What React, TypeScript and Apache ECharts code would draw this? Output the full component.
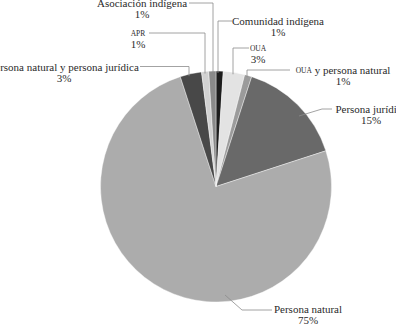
import React, { useEffect, useRef } from "react";
import * as echarts from "echarts";

const categories = [
  "Comunidad indígena",
  "OUA",
  "OUA y persona natural",
  "Persona jurídica",
  "Persona natural",
  "Persona natural y persona jurídica",
  "APR",
  "Asociación indígena",
];
const shares = [1, 3, 1, 15, 75, 3, 1, 1];
const sliceColors = ["#1d1d1d", "#e3e3e3", "#9b9b9b", "#696969", "#acacac", "#484848", "#d2d2d2", "#8a8a8a"];

// label layout (pixel positions of the label text and leader lines)
const CX = 216;
const CY = 186.5;
const R = 115.5;
type Lay = { x: number; y: number; vx?: number; hy?: number; ex?: number; pts?: number[][] };
const labelLayouts: Lay[] = [
  { x: 278, y: 15.5, vx: 218, hy: 21, ex: 232 },
  { x: 258, y: 42.5, vx: 233, hy: 48, ex: 249 },
  { x: 343, y: 64.5, vx: 247, hy: 70, ex: 290 },
  { x: 371, y: 103.5, pts: [[299, 116], [322, 109], [332, 109]] },
  { x: 308, y: 303, pts: [[225, 295], [242, 310], [272, 310]] },
  { x: 64, y: 61, vx: 189, hy: 66.5, ex: 140 },
  { x: 138, y: 27.5, vx: 205, hy: 33, ex: 149 },
  { x: 142, y: -3, vx: 213, hy: 3, ex: 189 },
];

function linePoints(l: Lay): number[][] {
  if (l.pts) return l.pts;
  const dx = (l.vx as number) - CX;
  const edgeY = CY - Math.sqrt(R * R - dx * dx) + 2;
  return [
    [l.vx as number, edgeY],
    [l.vx as number, l.hy as number],
    [l.ex as number, l.hy as number],
  ];
}

export default function App() {
  const ref = useRef<HTMLDivElement>(null);
  useEffect(() => {
    document.body.style.margin = "0";
    if (!ref.current) return;
    const chart = echarts.init(ref.current, null, { renderer: "svg" });
    const serif = "Liberation Serif";
    chart.setOption({
      animation: false,
      backgroundColor: "#ffffff",
      series: [
        {
          type: "pie",
          center: [CX, CY],
          radius: R,
          startAngle: 90,
          clockwise: true,
          avoidLabelOverlap: false,
          itemStyle: { borderColor: "#ffffff", borderWidth: 0.4 },
          label: {
            show: true,
            position: "outside",
            fontFamily: serif,
            fontSize: 11,
            color: "#2a2a2a",
            formatter: (p: any) => {
              const n: string = p.name;
              if (n === "APR" || n === "OUA") return `{sc|${n}}\n{t|${p.value}%}`;
              if (n.startsWith("OUA ")) return `{sc|OUA}{t|${n.slice(3)}}\n{t|${p.value}%}`;
              return `{t|${n}}\n{t|${p.value}%}`;
            },
            rich: {
              t: { fontFamily: serif, fontSize: 11, color: "#2a2a2a", lineHeight: 11 },
              sc: { fontFamily: serif, fontSize: 7.5, color: "#2a2a2a", lineHeight: 11 },
            },
          },
          labelLine: { show: false },
          labelLayout: (params: any) => {
            const l = labelLayouts[params.dataIndex];
            return { x: l.x, y: l.y, align: "center", verticalAlign: "top" };
          },
          data: categories.map((c, i) => ({
            name: c,
            value: shares[i],
            itemStyle: { color: sliceColors[i] },
          })),
        },
      ],
      graphic: labelLayouts.map((l) => ({
        type: "polyline",
        silent: true,
        z: 10,
        shape: { points: linePoints(l) },
        style: { stroke: "#8c8c8c", lineWidth: 0.8, fill: null },
      })),
    });
    return () => chart.dispose();
  }, []);
  return <div ref={ref} style={{ width: 396, height: 324 }} />;
}
